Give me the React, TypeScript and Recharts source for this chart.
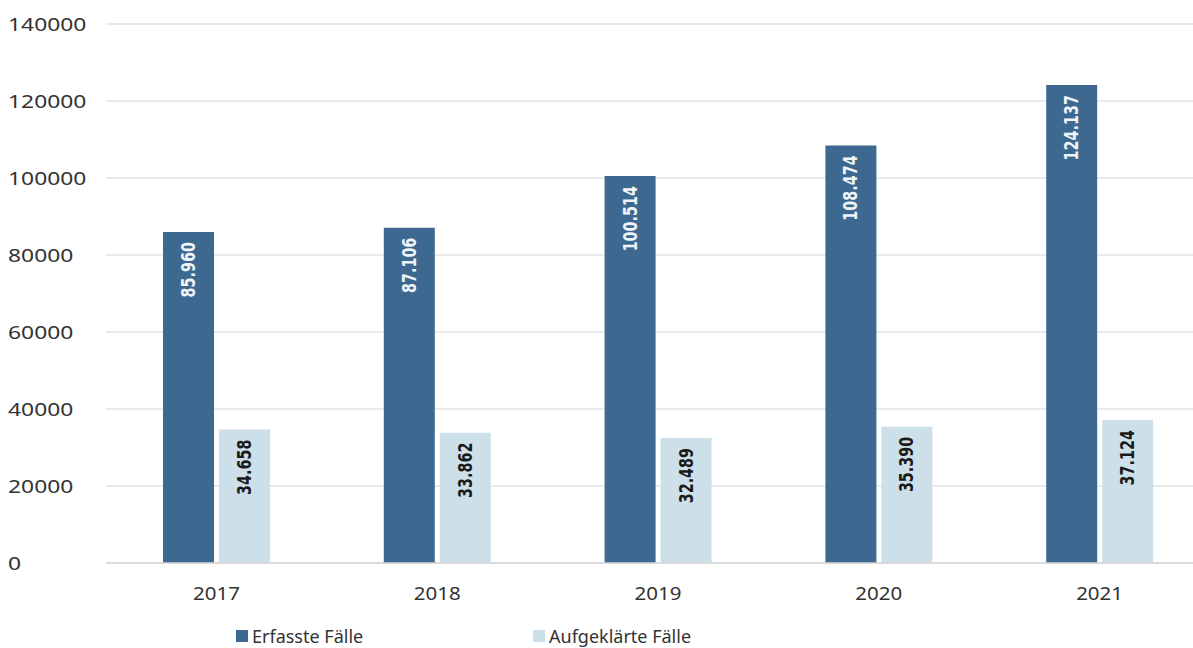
import { Bar, BarChart, CartesianGrid, LabelList, XAxis, YAxis } from "recharts";

const years = ["2017", "2018", "2019", "2020", "2021"];
const erfasst = [85960, 87106, 100514, 108474, 124137];
const aufgeklaert = [34658, 33862, 32489, 35390, 37124];
const yTicks = [0, 20000, 40000, 60000, 80000, 100000, 120000, 140000];

const DARK = "#3d6990";
const LIGHT = "#cde0ea";
const FONT = "'Noto Sans', 'Open Sans', sans-serif";

const data = years.map((year, i) => ({
  year,
  erfasst: erfasst[i],
  aufgeklaert: aufgeklaert[i],
}));

const fmt = (v: number) => String(v).replace(/\B(?=(\d{3})+(?!\d))/g, ".");

function makeLabel(color: string) {
  return (props: any) => {
    const { x, y, width, value } = props;
    const cx = Number(x) + Number(width) / 2;
    const cy = Number(y) + 10;
    return (
      <text
        x={0}
        y={0}
        transform={`translate(${cx} ${cy}) rotate(-90) scale(0.84 1)`}
        textAnchor="end"
        dominantBaseline="central"
        fill={color}
        fontFamily="'DejaVu Sans Condensed', 'DejaVu Sans', sans-serif"
        fontWeight="bold"
        fontSize={19}
      >
        {fmt(Number(value))}
      </text>
    );
  };
}

// the source image is a bit stretched sideways, so the axis text is widened to match
const YTick = (props: any) => {
  const { y, payload } = props;
  return (
    <text
      x={0}
      y={0}
      transform={`translate(8 ${y}) scale(1.27 1)`}
      textAnchor="start"
      dominantBaseline="central"
      fill="#333"
      fontFamily={FONT}
      fontSize={18}
    >
      {payload.value}
    </text>
  );
};

const XTick = (props: any) => {
  const { x, y, payload } = props;
  return (
    <text
      x={0}
      y={0}
      transform={`translate(${x} ${y + 22}) scale(1.14 1)`}
      textAnchor="middle"
      dominantBaseline="central"
      fill="#333"
      fontFamily={FONT}
      fontSize={18}
    >
      {payload.value}
    </text>
  );
};

export default function App() {
  return (
    <div style={{ position: "absolute", left: 0, top: 0, width: 1193, height: 648, overflow: "hidden", background: "#fff" }}>
      <BarChart
        width={1210}
        height={648}
        data={data}
        margin={{ top: 24, right: 0, bottom: 0, left: 0 }}
        barSize={51}
        barGap={5}
      >
        <CartesianGrid stroke="#e3e3e3" strokeWidth={1.5} vertical={false} />
        <XAxis
          dataKey="year"
          height={85}
          axisLine={{ stroke: "#d6d6d6", strokeWidth: 1.5 }}
          tickLine={false}
          tick={<XTick />}
        />
        <YAxis
          width={106}
          domain={[0, 140000]}
          ticks={yTicks}
          axisLine={false}
          tickLine={false}
          tick={<YTick />}
        />
        <Bar dataKey="erfasst" name="Erfasste Fälle" fill={DARK} isAnimationActive={false}>
          <LabelList dataKey="erfasst" content={makeLabel("#eef4f8")} />
        </Bar>
        <Bar dataKey="aufgeklaert" name="Aufgeklärte Fälle" fill={LIGHT} isAnimationActive={false}>
          <LabelList dataKey="aufgeklaert" content={makeLabel("#1a1a1a")} />
        </Bar>
      </BarChart>
      <div
        style={{
          position: "absolute",
          top: 624,
          left: 236,
          display: "flex",
          fontFamily: FONT,
          fontSize: 18,
          color: "#333",
          lineHeight: "24px",
        }}
      >
        <div style={{ display: "flex", alignItems: "center", width: 297 }}>
          <span style={{ display: "inline-block", width: 12, height: 12, background: DARK, marginRight: 4 }} />
          Erfasste Fälle
        </div>
        <div style={{ display: "flex", alignItems: "center" }}>
          <span style={{ display: "inline-block", width: 12, height: 12, background: LIGHT, marginRight: 4 }} />
          Aufgeklärte Fälle
        </div>
      </div>
    </div>
  );
}
